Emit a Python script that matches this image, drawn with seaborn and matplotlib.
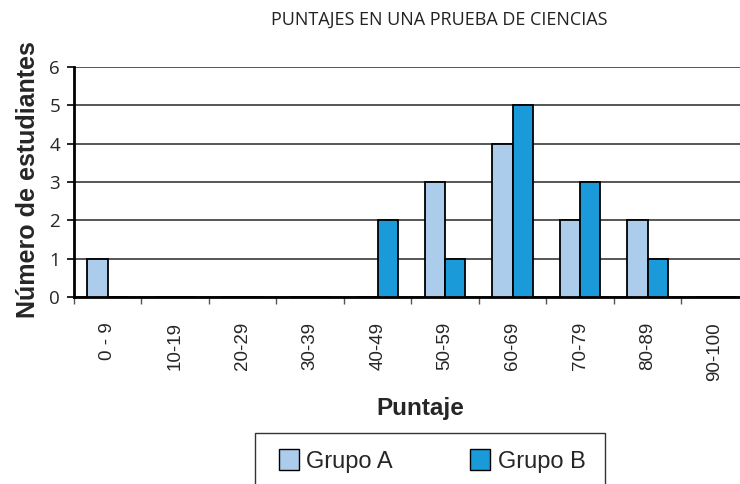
import matplotlib
matplotlib.use("Agg")
import matplotlib.pyplot as plt
from matplotlib.patches import Rectangle, Patch
from matplotlib.ticker import FixedLocator
import pandas as pd
import seaborn as sns

# Score ranges and number of students per group
rangos = ["0 - 9", "10-19", "20-29", "30-39", "40-49", "50-59",
          "60-69", "70-79", "80-89", "90-100"]
grupo_a = [1, 0, 0, 0, 0, 3, 4, 2, 2, 0]
grupo_b = [0, 0, 0, 0, 2, 1, 5, 3, 1, 0]
grupos = ["Grupo A", "Grupo B"]
colores = ["#abcdeb", "#1a9ad8"]

df = pd.DataFrame({
    "Puntaje": rangos * 2,
    "Estudiantes": grupo_a + grupo_b,
    "Grupo": [grupos[0]] * len(rangos) + [grupos[1]] * len(rangos),
})

sns.set_theme(style="white")
plt.rcParams["font.family"] = ["Liberation Sans", "DejaVu Sans"]

fig = plt.figure(figsize=(7.4, 4.84), dpi=100)
ax = fig.add_axes([74 / 740, 1 - 297 / 484, 1 - 74 / 740, (297 - 67) / 484])

sns.barplot(data=df, x="Puntaje", y="Estudiantes", hue="Grupo",
            palette=colores, saturation=1, width=0.6, gap=0,
            edgecolor="black", linewidth=1.3, ax=ax, legend=False, zorder=3)

ax.set_ylim(0, 6)
ax.set_xlim(-0.5, 9.37)
ax.set_yticks(range(0, 7))
ax.yaxis.grid(True, color="#3a3a3a", linewidth=1.2, zorder=0)
ax.set_axisbelow(True)

# labels at the category centres, tick marks on the boundaries
ax.set_xticks(range(10))
ax.set_xticklabels(rangos)
ax.xaxis.set_minor_locator(FixedLocator([i - 0.5 for i in range(10)]))
ax.tick_params(axis="x", which="minor", direction="out", length=5,
               width=1, color="#555555", bottom=True)
ax.tick_params(axis="x", which="major", length=0, pad=18, bottom=True,
               labelsize=13.5, labelrotation=90)
ax.tick_params(axis="y", direction="out", length=5, width=1.2,
               color="black", left=True, labelsize=13.5, pad=5)
for lbl in ax.get_yticklabels():
    lbl.set_family(["Open Sans", "DejaVu Sans"])

for s in ["top", "right"]:
    ax.spines[s].set_visible(False)
for s in ["left", "bottom"]:
    ax.spines[s].set_color("black")
    ax.spines[s].set_linewidth(2)

ax.set_xlabel("Puntaje", fontsize=17.5, fontweight="bold")
ax.set_ylabel("Número de estudiantes", fontsize=18, fontweight="bold")
ax.xaxis.set_label_coords((420 - 74) / 666, -(408 - 297) / 230)
ax.yaxis.set_label_coords(-(74 - 28) / 666, (297 - 180) / 230)
ax.xaxis.label.set_va("center")
ax.yaxis.label.set_va("center")

fig.text(439 / 740, 1 - 20 / 484, "PUNTAJES EN UNA PRUEBA DE CIENCIAS",
         ha="center", va="center", fontsize=13,
         family=["Open Sans", "DejaVu Sans"], color="#222222")

# legend box
fig.patches.append(Rectangle((255 / 740, -0.05), 350 / 740,
                             0.05 + (484 - 433) / 484,
                             transform=fig.transFigure, fill=False,
                             edgecolor="#333333", linewidth=1))
handles = [Patch(facecolor=c, edgecolor="black", linewidth=1) for c in colores]
fig.legend(handles, grupos, loc="center", ncol=2, frameon=False,
           bbox_to_anchor=(432 / 740, 1 - 461 / 484), fontsize=17,
           handlelength=0.85, handleheight=1.0, handletextpad=0.3,
           columnspacing=3.3)

fig.savefig("out.png", dpi=100)
